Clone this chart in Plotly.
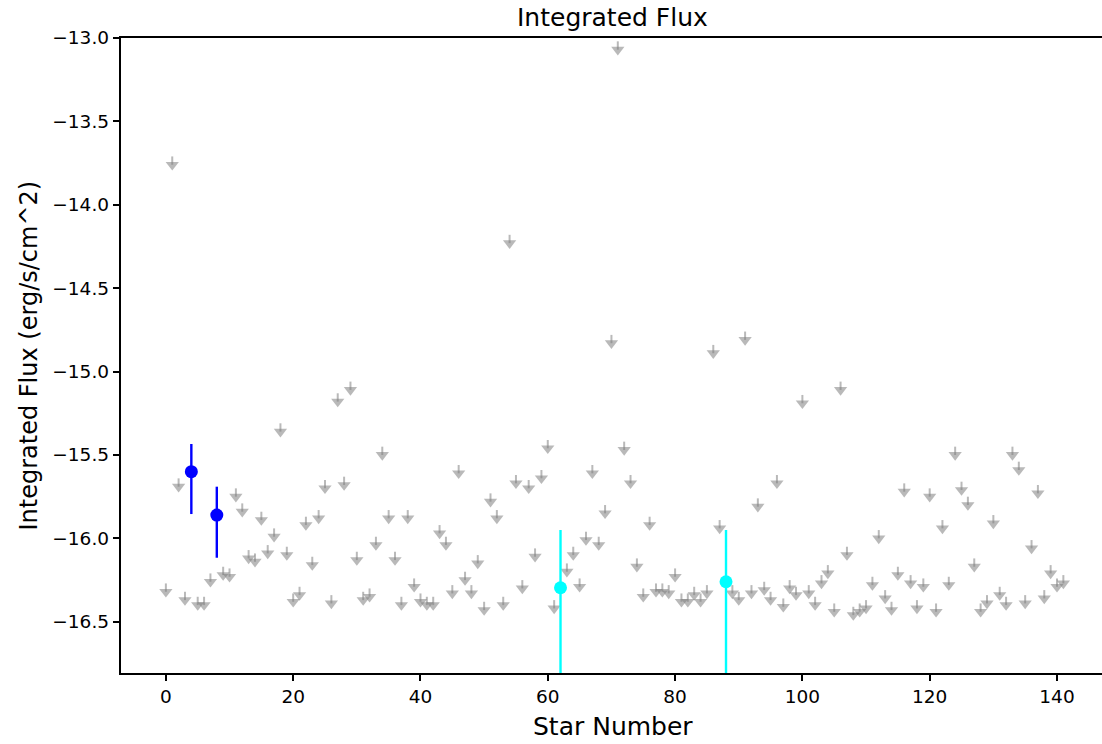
import plotly.graph_objects as go

# ---- data ----
star_number = list(range(142))
# upper-limit fluxes (None where the star is detected)
limit_flux = [
    -16.32, -13.76, -15.69, -16.37, None, -16.40, -16.40, -16.26, None, -16.22,
    -16.23, -15.75, -15.84, -16.12, -16.14, -15.89, -16.09, -15.99, -15.36, -16.10,
    -16.38, -16.34, -15.92, -16.16, -15.88, -15.70, -16.39, -15.18, -15.68, -15.11,
    -16.13, -16.37, -16.35, -16.04, -15.50, -15.88, -16.13, -16.40, -15.88, -16.29,
    -16.38, -16.40, -16.40, -15.97, -16.04, -16.33, -15.61, -16.25, -16.33, -16.15,
    -16.43, -15.78, -15.88, -16.40, -14.23, -15.67, -16.30, -15.70, -16.11, -15.64,
    -15.46, -16.42, None, -16.20, -16.10, -16.29, -16.01, -15.61, -16.04, -15.85,
    -14.83, -13.07, -15.47, -15.67, -16.17, -16.35, -15.92, -16.32, -16.32, -16.33,
    -16.23, -16.38, -16.38, -16.34, -16.38, -16.33, -14.89, -15.94, None, -16.33,
    -16.37, -14.81, -16.33, -15.81, -16.31, -16.37, -15.67, -16.41, -16.30, -16.34,
    -15.19, -16.33, -16.40, -16.27, -16.21, -16.44, -15.11, -16.10, -16.46, -16.44,
    -16.42, -16.28, -16.00, -16.36, -16.43, -16.22, -15.72, -16.27, -16.42, -16.29,
    -15.75, -16.44, -15.94, -16.28, -15.50, -15.71, -15.80, -16.17, -16.44, -16.39,
    -15.91, -16.34, -16.40, -15.50, -15.59, -16.39, -16.06, -15.73, -16.36, -16.21,
    -16.29, -16.27,
]
blue_x = [4, 8]
blue_flux = [-15.600, -15.860]
blue_err_up = [0.166, 0.170]
blue_err_down = [0.254, 0.256]
cyan_x = [62, 88]
cyan_flux = [-16.296, -16.260]
cyan_err_up = [0.346, 0.310]
cyan_err_down = [1.5, 1.5]   # lower bound undefined (runs off the axis)

x_ticks = [0, 20, 40, 60, 80, 100, 120, 140]
y_ticks = [-13.0, -13.5, -14.0, -14.5, -15.0, -15.5, -16.0, -16.5]
y_tick_text = ["\u2212%.1f" % abs(v) for v in y_ticks]

# ---- figure ----
lim_x = [s for s, f in zip(star_number, limit_flux) if f is not None]
lim_y = [f for f in limit_flux if f is not None]
gray = "rgba(128,128,128,0.55)"

fig = go.Figure()
fig.add_trace(go.Scatter(
    x=lim_x, y=lim_y, mode="markers",
    marker=dict(symbol="triangle-down", size=11.5, color=gray, line=dict(width=0)),
    error_y=dict(type="data", symmetric=False, array=[0.05] * len(lim_y),
                 arrayminus=[0] * len(lim_y), width=0, thickness=2, color=gray),
    showlegend=False, hoverinfo="x+y",
))
fig.add_trace(go.Scatter(
    x=blue_x, y=blue_flux, mode="markers",
    marker=dict(symbol="circle", size=13, color="#0000ff", line=dict(width=0)),
    error_y=dict(type="data", symmetric=False, array=blue_err_up,
                 arrayminus=blue_err_down, width=0, thickness=2.4, color="#0000ff"),
    showlegend=False,
))
fig.add_trace(go.Scatter(
    x=cyan_x, y=cyan_flux, mode="markers",
    marker=dict(symbol="circle", size=13, color="#00ffff", line=dict(width=0)),
    error_y=dict(type="data", symmetric=False, array=cyan_err_up,
                 arrayminus=cyan_err_down, width=0, thickness=2.4, color="#00ffff"),
    showlegend=False,
))

font = "DejaVu Sans, Arial, sans-serif"
fig.update_layout(
    width=1102, height=744,
    margin=dict(l=121, r=0, t=38, b=71),
    paper_bgcolor="white", plot_bgcolor="white",
    font=dict(family=font, color="black", size=18.5),
    xaxis=dict(range=[-7.05, 147.07], showgrid=False, zeroline=False,
               showline=True, linecolor="black", linewidth=1.5, mirror=True,
               ticks="outside", ticklen=6.5, tickwidth=1.5, tickcolor="black",
               tickvals=x_ticks, ticktext=[str(v) for v in x_ticks],
               tickfont=dict(size=18.5, family=font, color="black")),
    yaxis=dict(range=[-16.807, -13.0], showgrid=False, zeroline=False,
               showline=True, linecolor="black", linewidth=1.5, mirror=False,
               ticks="outside", ticklen=6.5, tickwidth=1.5, tickcolor="black",
               tickvals=y_ticks, ticktext=y_tick_text,
               tickfont=dict(size=18.5, family=font, color="black")),
    annotations=[
        dict(text="Integrated Flux", xref="paper", yref="paper", x=0.5015, y=1.0315,
             xanchor="center", yanchor="middle", showarrow=False,
             font=dict(size=25, family=font, color="black")),
        dict(text="Star Number", xref="paper", yref="paper", x=0.5015, y=-0.085,
             xanchor="center", yanchor="middle", showarrow=False,
             font=dict(size=25, family=font, color="black")),
        dict(text="Integrated Flux (erg/s/cm^2)", xref="paper", yref="paper",
             x=-0.0948, y=0.5, textangle=-90, xanchor="center", yanchor="middle",
             showarrow=False, font=dict(size=24, family=font, color="black")),
    ],
)

fig.write_html("out.html")
